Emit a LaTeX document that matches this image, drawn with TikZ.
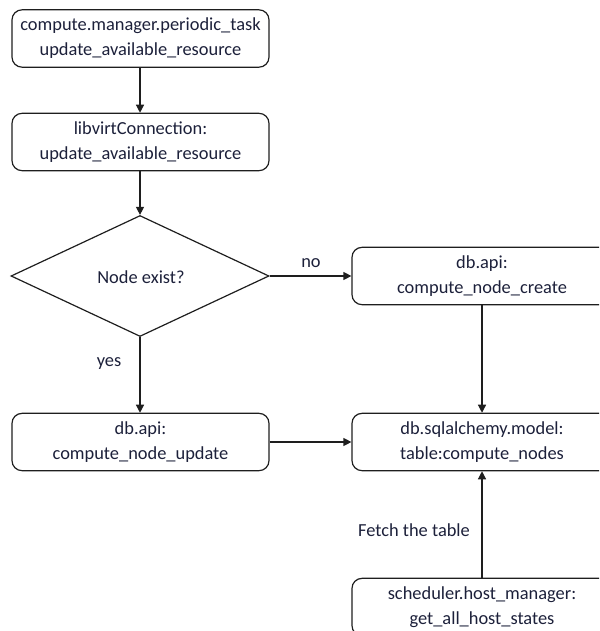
\documentclass[tikz,border=0pt]{standalone}
\usepackage{fontspec}
\setmainfont{Carlito}
\usetikzlibrary{shapes.geometric,arrows.meta}
\definecolor{txt}{RGB}{28,32,58}
\definecolor{ln}{RGB}{30,30,30}
\begin{document}
\begin{tikzpicture}[x=0.75pt,y=-0.75pt,
  every node/.style={text=txt,font=\fontsize{13.8pt}{18.75pt}\selectfont},
  box/.style={draw=ln,line width=0.9pt,rounded corners=7.5pt,align=center,inner sep=0pt,minimum height=43pt},
  lbox/.style={box,minimum width=192.75pt},
  rbox/.style={box,minimum width=195pt},
  dec/.style={draw=ln,line width=0.9pt,shape=diamond,inner sep=0pt,minimum width=193.5pt,minimum height=90.75pt},
  arr/.style={draw=ln,line width=0.9pt,-{Triangle[length=6pt,width=6pt]}},
  lab/.style={inner sep=0pt}]
\useasboundingbox (0,0) rectangle (599,631);
\clip (0,0) rectangle (599,631);
\node[lbox] (b1) at (140.5,38.5) {compute.manager.periodic\_task\\update\_available\_resource};
\node[lbox] (b2) at (140.5,142) {libvirtConnection:\\update\_available\_resource};
\node[dec] (d) at (140,276) {};
\node[lab] (dt) at (141,277) {Node exist?};
\node[rbox] (b3) at (482,276) {db.api:\\compute\_node\_create};
\node[lbox] (b4) at (140.5,442) {db.api:\\compute\_node\_update};
\node[rbox] (b5) at (482,442) {db.sqlalchemy.model:\\table:compute\_nodes};
\node[rbox] (b6) at (482,607) {scheduler.host\_manager:\\get\_all\_host\_states};
\node[lab] (no) at (311,263) {no};
\node[lab] (yes) at (109,364) {yes};
\node[lab] (fetch) at (414,530) {Fetch the table};
\draw[arr] (b1.south -| d.north) -- (b2.north -| d.north);
\draw[arr] (b2.south -| d.north) -- (d.north);
\draw[arr] (d.east) -- (b3.west);
\draw[arr] (d.south) -- (b4.north -| d.south);
\draw[arr] (b4.east) -- (b5.west);
\draw[arr] (b3.south) -- (b5.north);
\draw[arr] (b6.north) -- (b5.south);
\end{tikzpicture}
\end{document}
